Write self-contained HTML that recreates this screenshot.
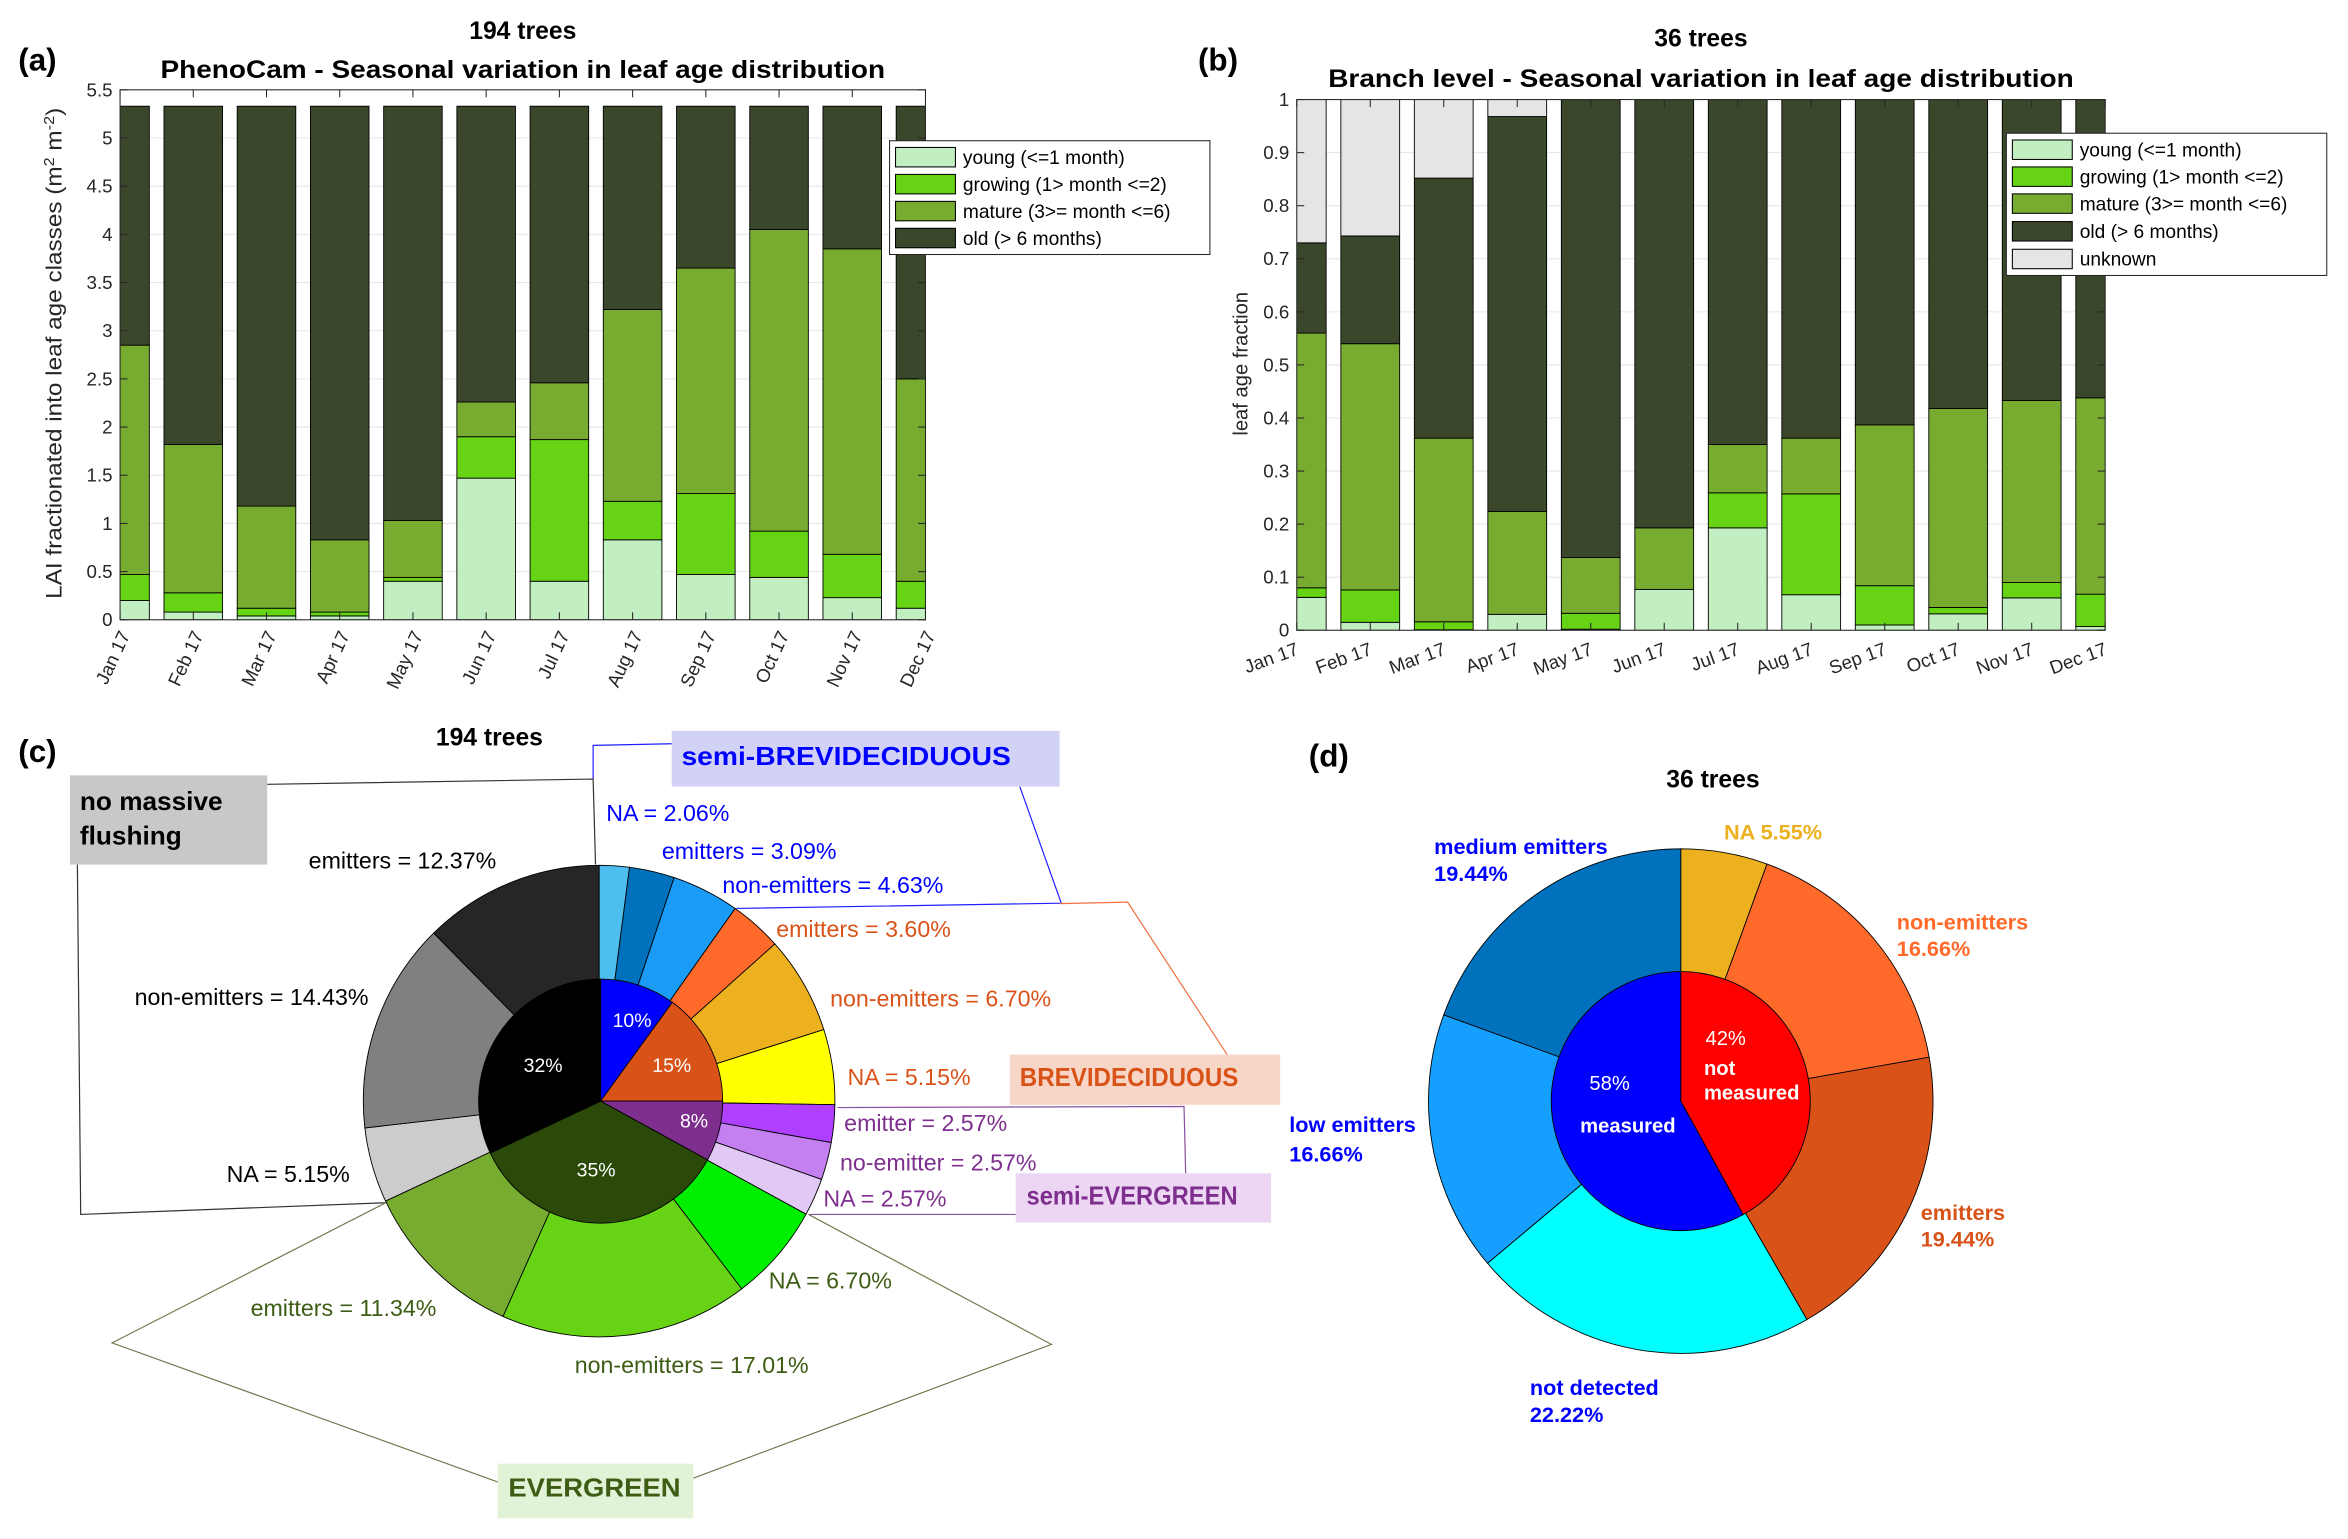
<!DOCTYPE html>
<html><head><meta charset="utf-8"><style>
html,body{margin:0;padding:0;background:#fff}
svg{display:block}
text{font-family:"Liberation Sans",Arial,sans-serif}
</style></head><body>
<svg id="fig" xmlns="http://www.w3.org/2000/svg" width="2348" height="1539" viewBox="0 0 1568 1028">
<rect x="0" y="0" width="1568" height="1028" fill="#fff"/>
<defs>
<clipPath id="clipA"><rect x="80" y="60" width="538" height="354"/></clipPath>
<clipPath id="clipB"><rect x="866" y="66.5" width="540" height="354.5"/></clipPath>
</defs>
<g id="panelA"></g>
<g id="panelB"></g>
<g id="panelC"></g>
<g id="panelD"></g>
</svg>
<script>
// ---------- data ----------
const months = ["Jan 17","Feb 17","Mar 17","Apr 17","May 17","Jun 17","Jul 17","Aug 17","Sep 17","Oct 17","Nov 17","Dec 17"];
const aYoung   = [0.20,0.08,0.04,0.04,0.40,1.47,0.40,0.83,0.47,0.44,0.23,0.12];
const aGrowing = [0.27,0.20,0.08,0.04,0.04,0.43,1.47,0.40,0.84,0.48,0.45,0.28];
const aMature  = [2.38,1.54,1.06,0.75,0.59,0.36,0.59,1.99,2.34,3.13,3.17,2.10];
const aOld     = [2.48,3.51,4.15,4.50,4.30,3.07,2.87,2.11,1.68,1.28,1.48,2.83];
const aTicks = [0,0.5,1,1.5,2,2.5,3,3.5,4,4.5,5,5.5];
const aTickLabels = ["0","0.5","1","1.5","2","2.5","3","3.5","4","4.5","5","5.5"];
const bYoung   = [0.062,0.015,0.001,0.030,0.002,0.077,0.193,0.067,0.010,0.031,0.061,0.007];
const bGrowing = [0.018,0.061,0.015,0.000,0.030,0.000,0.066,0.190,0.074,0.012,0.029,0.061];
const bMature  = [0.480,0.464,0.346,0.194,0.105,0.116,0.091,0.105,0.303,0.375,0.343,0.370];
const bOld     = [0.170,0.203,0.490,0.744,0.863,0.807,0.650,0.638,0.613,0.582,0.567,0.562];
const bUnknown = [0.270,0.257,0.148,0.032,0,0,0,0,0,0,0,0];
const bTicks = [0,0.1,0.2,0.3,0.4,0.5,0.6,0.7,0.8,0.9,1];
const bTickLabels = ["0","0.1","0.2","0.3","0.4","0.5","0.6","0.7","0.8","0.9","1"];
const cOuterValues = [2.06,3.09,4.63,3.60,6.70,5.15,2.57,2.57,2.57,6.70,17.01,11.34,5.15,14.43,12.37];
const cInnerValues = [10,15,8,35,32];
const cInnerLabels = ["10%","15%","8%","35%","32%"];
const dOuterValues = [5.55,16.66,19.44,22.22,16.66,19.44];
const dInnerValues = [42,58];

const NS="http://www.w3.org/2000/svg";
function el(tag, attrs, parent, txt){
  const e=document.createElementNS(NS,tag);
  for(const k in attrs) e.setAttribute(k, attrs[k]);
  if(txt!==undefined) e.textContent=txt;
  parent.appendChild(e); return e;
}
const COL={young:"#c2efc2",growing:"#66d314",mature:"#77ac30",old:"#3b472b",unknown:"#e5e5e5"};

function barPanel(g, cfg){
  const {x0,x1,y0,y1,ymax,ticks,tickLabels,series,clip,rot}=cfg;
  const xs=i=>x0+(x1-x0)*i/11;
  const ys=v=>y1-(y1-y0)*v/ymax;
  ticks.forEach(t=>{
    const l=el("line",{x1:x0,x2:x1,y1:ys(t),y2:ys(t),stroke:"#e6e6e6","stroke-width":0.7},g);
    
    
  });
  const bars=el("g",{"clip-path":"url(#"+clip+")"},g);
  
  
  const bw=(x1-x0)/11*0.8;
  months.forEach((m,i)=>{
    let acc=0;
    series.forEach(s=>{
      const v=s.vals[i];
      if(v<=0){return;}
      const r=el("rect",{x:xs(i)-bw/2,y:ys(acc+v),width:bw,height:ys(acc)-ys(acc+v),fill:s.color,stroke:"#000","stroke-width":0.6},bars);
      
      
      acc+=v;
    });
  });
  const box=el("rect",{x:x0,y:y0,width:x1-x0,height:y1-y0,fill:"none",stroke:"#262626","stroke-width":0.7},g);
  
  
  ticks.forEach((t,k)=>{
    el("line",{x1:x0,x2:x0+5,y1:ys(t),y2:ys(t),stroke:"#262626","stroke-width":0.7},g);
    el("line",{x1:x1,x2:x1-5,y1:ys(t),y2:ys(t),stroke:"#262626","stroke-width":0.7},g);
    const tl=el("text",{x:x0-5,y:ys(t)+4.3,"font-size":12.5,"text-anchor":"end",fill:"#262626"},g,tickLabels[k]);
    
    
  });
  months.forEach((m,i)=>{
    el("line",{x1:xs(i),x2:xs(i),y1:y0,y2:y0+5,stroke:"#262626","stroke-width":0.7},g);
    el("line",{x1:xs(i),x2:xs(i),y1:y1,y2:y1-5,stroke:"#262626","stroke-width":0.7},g);
    let tx,ty;
    if(rot===-65){tx=xs(i)+7;ty=y1+10;}else{tx=xs(i)+2;ty=y1+16;}
    const t=el("text",{x:tx,y:ty,"font-size":12.5,"text-anchor":"end",fill:"#262626",transform:"rotate("+rot+" "+tx+" "+ty+")"},g,m);
    
    
  });
}
function legend(g,x,y,w,h,entries,rows){
  const lg=el("g",{},g);
  
  
  el("rect",{x:x,y:y,width:w,height:h,fill:"#fff",stroke:"#262626","stroke-width":0.7},lg);
  entries.forEach((e,k)=>{
    const cy=rows[k];
    const it=el("g",{},lg);
    
    
    el("rect",{x:x+4,y:cy-6.5,width:40,height:13,fill:e[1],stroke:"#000","stroke-width":0.7},it);
    el("text",{x:x+49,y:cy+4.5,"font-size":12.8,fill:"#000"},it,e[0]);
  });
}
function txt(g,name,x,y,s,attrs){
  const a=Object.assign({x:x,y:y},attrs||{});
  const t=el("text",a,g,s);
  
  
  return t;
}

// ---------- panel A ----------
const A=document.getElementById("panelA");
barPanel(A,{x0:80,x1:618,y0:60,y1:414,ymax:5.5,ticks:aTicks,tickLabels:aTickLabels,clip:"clipA",rot:-65,
  series:[{name:"young",vals:aYoung,color:COL.young},{name:"growing",vals:aGrowing,color:COL.growing},{name:"mature",vals:aMature,color:COL.mature},{name:"old",vals:aOld,color:COL.old}]});
legend(A,594,94,214,76,[["young (<=1 month)",COL.young],["growing (1> month <=2)",COL.growing],["mature (3>= month <=6)",COL.mature],["old (> 6 months)",COL.old]],[105,123,141,159]);
txt(A,"panel-a-label",12,47,"(a)",{"font-size":21,"font-weight":"bold"});
txt(A,"panel-a-title-1",349,26,"194 trees",{"font-size":16.5,"font-weight":"bold","text-anchor":"middle"});
txt(A,"panel-a-title-2",349,52,"PhenoCam - Seasonal variation in leaf age distribution",{"font-size":16.5,"font-weight":"bold","text-anchor":"middle",textLength:484,lengthAdjust:"spacingAndGlyphs"});
(function(){const t=txt(A,"y-axis-title-a",0,0,"",{"font-size":15,"text-anchor":"middle",fill:"#262626",transform:"translate(41,236) rotate(-90)",textLength:328,lengthAdjust:"spacingAndGlyphs"});
 t.innerHTML='LAI fractionated into leaf age classes (m<tspan dy="-5" font-size="10">2</tspan><tspan dy="5"> m</tspan><tspan dy="-5" font-size="10">-2</tspan><tspan dy="5">)</tspan>';})();

// ---------- panel B ----------
const B=document.getElementById("panelB");
barPanel(B,{x0:866,x1:1406,y0:66.5,y1:421,ymax:1,ticks:bTicks,tickLabels:bTickLabels,clip:"clipB",rot:-20,
  series:[{name:"young",vals:bYoung,color:COL.young},{name:"growing",vals:bGrowing,color:COL.growing},{name:"mature",vals:bMature,color:COL.mature},{name:"old",vals:bOld,color:COL.old},{name:"unknown",vals:bUnknown,color:COL.unknown}]});
legend(B,1340,89,214,95,[["young (<=1 month)",COL.young],["growing (1> month <=2)",COL.growing],["mature (3>= month <=6)",COL.mature],["old (> 6 months)",COL.old],["unknown",COL.unknown]],[100,118,136,154.5,173]);
txt(B,"panel-b-label",800,47,"(b)",{"font-size":21,"font-weight":"bold"});
txt(B,"panel-b-title-1",1136,31,"36 trees",{"font-size":16.5,"font-weight":"bold","text-anchor":"middle"});
txt(B,"panel-b-title-2",1136,58,"Branch level - Seasonal variation in leaf age distribution",{"font-size":16.5,"font-weight":"bold","text-anchor":"middle",textLength:498,lengthAdjust:"spacingAndGlyphs"});
txt(B,"y-axis-title-b",0,0,"leaf age fraction",{"font-size":13.5,"text-anchor":"middle",fill:"#262626",transform:"translate(833,243) rotate(-90)"});

// ---------- pie helper ----------
function pie(g,cx,cy,r,vals,colors,names){
  const tot=vals.reduce((a,b)=>a+b,0);
  let a0=-Math.PI/2;
  vals.forEach((v,i)=>{
    const a1=a0+2*Math.PI*v/tot;
    const p0=[cx+r*Math.cos(a0),cy+r*Math.sin(a0)],p1=[cx+r*Math.cos(a1),cy+r*Math.sin(a1)];
    const large=(a1-a0)>Math.PI?1:0;
    const p=el("path",{d:`M${cx},${cy} L${p0[0]},${p0[1]} A${r},${r} 0 ${large} 1 ${p1[0]},${p1[1]} Z`,fill:colors[i],stroke:"#000","stroke-width":0.6},g);
    
    
    a0=a1;
  });
}

// ---------- panel C ----------
const C=document.getElementById("panelC");
const cOuterColors=["#4dbeee","#0072bd","#1a9bf5","#ff6a2a","#edb120","#ffff00","#b040ff","#c47ff0","#e2c8f5","#00ee00","#66d314","#77ac30","#cccccc","#808080","#262626"];
const cOuterNames=["slice-semibrev-na","slice-semibrev-emitters","slice-semibrev-non-emitters","slice-brev-emitters","slice-brev-non-emitters","slice-brev-na","slice-semiever-emitter","slice-semiever-no-emitter","slice-semiever-na","slice-ever-na","slice-ever-non-emitters","slice-ever-emitters","slice-nomass-na","slice-nomass-non-emitters","slice-nomass-emitters"];
pie(C,400,735.5,157.5,cOuterValues,cOuterColors,cOuterNames);
pie(C,401,735.5,81.5,cInnerValues,["#0000ff","#d95319","#7e2f8e","#2b4a0a","#000000"],["inner-semibrev","inner-brev","inner-semiever","inner-ever","inner-nomass"]);
[[422,686],[448.5,716],[463.4,753],[398,786],[362.6,716]].forEach((p,i)=>{
  txt(C,"inner-label",p[0],p[1],cInnerLabels[i],{"font-size":13,"text-anchor":"middle",fill:"#fff"});
});
function pl(pts,col,name){const l=el("polyline",{points:pts,fill:"none",stroke:col,"stroke-width":0.8},C);}
pl("178.3,523.9 396,520.4 397.6,577.5","#333","connector-nomass-top");
pl("51.5,577.5 53.7,811.2 257.5,803.4","#333","connector-nomass-bottom");
pl("396,520 396,497.9 448.5,496.8","#2020ff","connector-semibrev-top");
pl("681,525.4 708.7,603.3 491.7,606.8","#2020ff","connector-semibrev-bottom");
pl("707.6,603.6 753,602.6 819.5,704.4","#f07040","connector-brev");
pl("559.2,739.8 790.7,739.1 791.8,783.7","#8a50a0","connector-semiever-top");
pl("539.9,811.2 678.3,811.2","#8a50a0","connector-semiever-bottom");
pl("257.5,803.4 74.7,897 332.2,989.9","#707c50","connector-ever-left");
pl("539.9,811.2 702.1,898 462.9,987.4","#707c50","connector-ever-right");
function box(x,y,w,h,fill,name){const r=el("rect",{x:x,y:y,width:w,height:h,fill:fill},C);}
box(46.5,517.9,131.8,59.6,"#c8c8c8","box-no-massive-flushing");
box(448.5,488.2,259.1,37.2,"#d2d2f7","box-semi-brevideciduous");
box(674.4,704.4,180.5,33.6,"#f7d6c8","box-brevideciduous");
box(678.3,783.7,170.5,32.9,"#ecd6f3","box-semi-evergreen");
box(332.2,977.7,130.7,36.5,"#e2f2d6","box-evergreen");
txt(C,"box-text-no-massive",53.2,541,"no massive",{"font-size":17.5,"font-weight":"bold",fill:"#000"});
txt(C,"box-text-flushing",53.2,564,"flushing",{"font-size":17.5,"font-weight":"bold",fill:"#000"});
txt(C,"box-text-semi-brevideciduous",455,511,"semi-BREVIDECIDUOUS",{"font-size":17,"font-weight":"bold",fill:"#0000ff",textLength:220,lengthAdjust:"spacingAndGlyphs"});
txt(C,"box-text-brevideciduous",681,725.5,"BREVIDECIDUOUS",{"font-size":17,"font-weight":"bold",fill:"#d95319",textLength:146,lengthAdjust:"spacingAndGlyphs"});
txt(C,"box-text-semi-evergreen",685.5,804.5,"semi-EVERGREEN",{"font-size":17,"font-weight":"bold",fill:"#7e2f8e",textLength:141,lengthAdjust:"spacingAndGlyphs"});
txt(C,"box-text-evergreen",339.4,999.5,"EVERGREEN",{"font-size":17,"font-weight":"bold",fill:"#3d5c14",textLength:115,lengthAdjust:"spacingAndGlyphs"});
txt(C,"panel-c-label",12,509,"(c)",{"font-size":21,"font-weight":"bold"});
txt(C,"panel-c-title",326.7,498,"194 trees",{"font-size":16.5,"font-weight":"bold","text-anchor":"middle"});
const cl=[
 ["NA = 2.06%",404.8,542.9,"#0000ff"],["emitters = 3.09%",441.9,568.3,"#0000ff"],["non-emitters = 4.63%",482.3,591.1,"#0000ff"],
 ["emitters = 3.60%",518.3,620.4,"#d95319"],["non-emitters = 6.70%",554.3,666.9,"#d95319"],["NA = 5.15%",565.9,719.4,"#d95319"],
 ["emitter = 2.57%",563.7,750.1,"#7e2f8e"],["no-emitter = 2.57%",560.9,776.2,"#7e2f8e"],["NA = 2.57%",549.8,800.5,"#7e2f8e"],
 ["NA = 6.70%",513.3,855.2,"#3d5c14"],["non-emitters = 17.01%",383.7,911.6,"#3d5c14"],["emitters = 11.34%",167.2,873.7,"#3d5c14"],
 ["NA = 5.15%",151.2,784.1,"#000"],["non-emitters = 14.43%",89.7,665.8,"#000"],["emitters = 12.37%",206,574.7,"#000"]];
cl.forEach(c=>txt(C,"slice-label",c[1],c[2]+5.5,c[0],{"font-size":15.5,fill:c[3]}));

// ---------- panel D ----------
const D=document.getElementById("panelD");
pie(D,1122.5,735.5,168.5,dOuterValues,["#edb120","#ff6a2a","#d95319","#00ffff","#15a0ff","#0072bd"],["slice-na","slice-non-emitters","slice-emitters","slice-not-detected","slice-low-emitters","slice-medium-emitters"]);
pie(D,1122.5,735.5,86.5,dInnerValues,["#ff0000","#0000ff"],["inner-not-measured","inner-measured"]);
txt(D,"panel-d-label",874,512,"(d)",{"font-size":21,"font-weight":"bold"});
txt(D,"panel-d-title",1144,526,"36 trees",{"font-size":16.5,"font-weight":"bold","text-anchor":"middle"});
const dl=[["medium emitters",957.8,565.4,"#0000ff"],["19.44%",957.8,583.5,"#0000ff"],["NA 5.55%",1151.4,555.9,"#edb120"],
 ["non-emitters",1266.8,616,"#ff6a2a"],["16.66%",1266.8,633.5,"#ff6a2a"],["emitters",1282.8,809.8,"#d95319"],["19.44%",1282.8,827.6,"#d95319"],
 ["not detected",1021.7,926.9,"#0000ff"],["22.22%",1021.7,944.7,"#0000ff"],["low emitters",861,751,"#0000ff"],["16.66%",861,771,"#0000ff"]];
dl.forEach(c=>txt(D,"slice-label",c[1],c[2]+5,c[0],{"font-size":14.5,"font-weight":"bold",fill:c[3]}));
txt(D,"inner-label-42",1139,698,"42%",{"font-size":13.5,fill:"#fff"});
txt(D,"inner-label-not",1138,718,"not",{"font-size":13.5,"font-weight":"bold",fill:"#fff"});
txt(D,"inner-label-measured-1",1138,734.5,"measured",{"font-size":13.5,"font-weight":"bold",fill:"#fff"});
txt(D,"inner-label-58",1075,728,"58%",{"font-size":13.5,fill:"#fff","text-anchor":"middle"});
txt(D,"inner-label-measured-2",1055.3,756.5,"measured",{"font-size":13.5,"font-weight":"bold",fill:"#fff"});
</script>
</body></html>
